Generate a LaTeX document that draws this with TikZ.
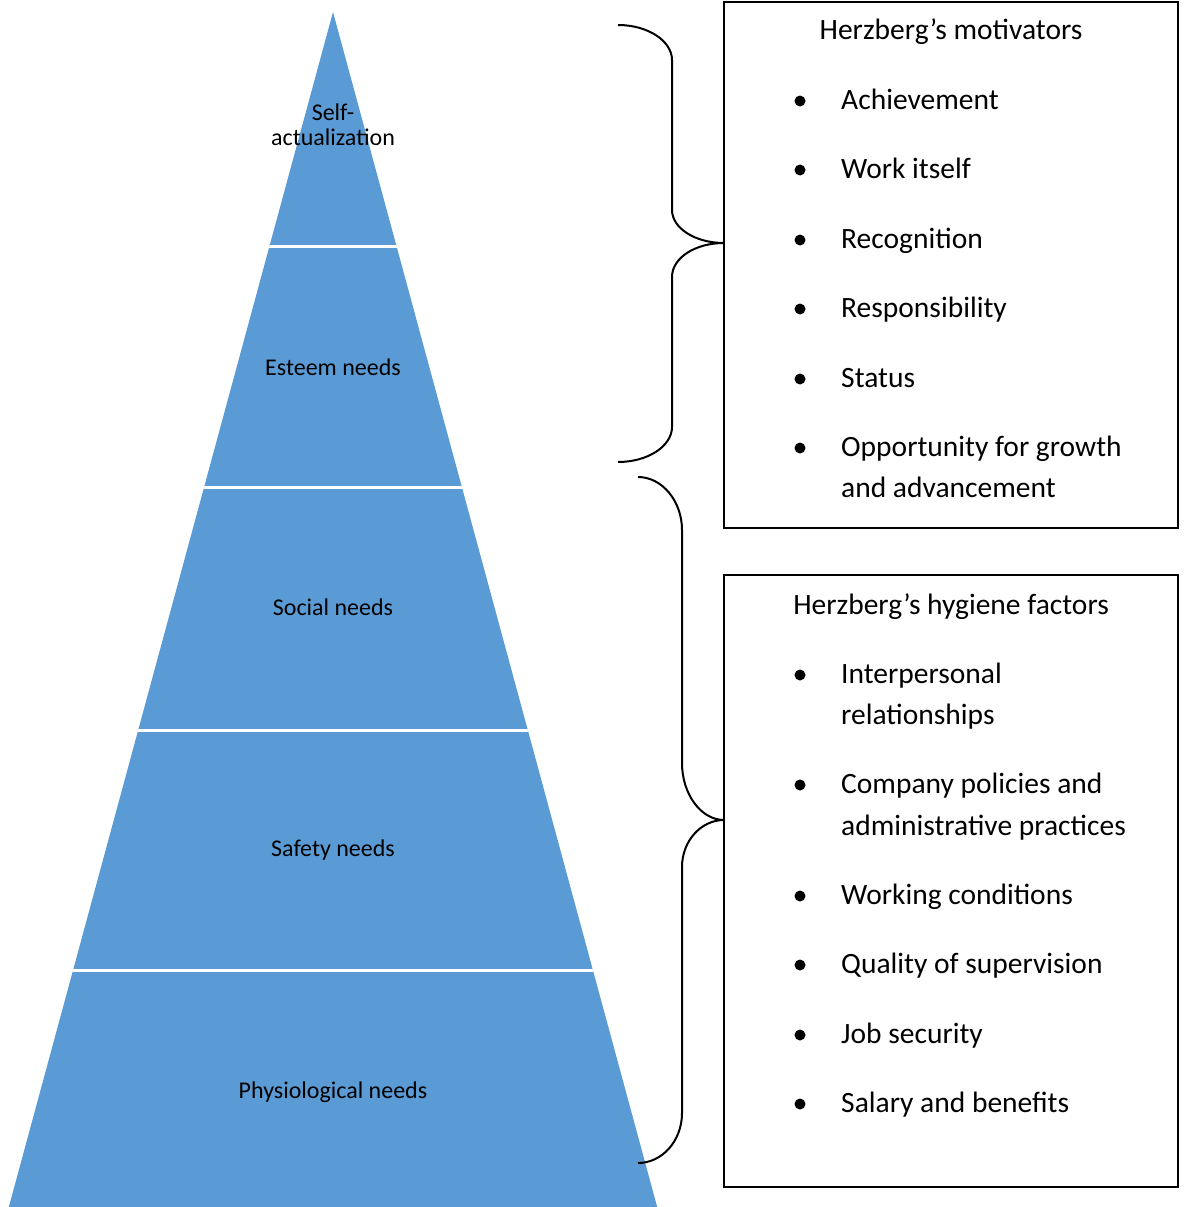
\documentclass[tikz,border=0pt]{standalone}
\usepackage{fontspec}
\setmainfont{Carlito}
\definecolor{pyrblue}{HTML}{5B9BD5}
\begin{document}
\begin{tikzpicture}[x=1pt,y=-1pt,
  boxframe/.style={draw=black,line width=2pt},
  bracestyle/.style={draw=black,line width=2pt},
  itemtext/.style={anchor=base west,inner sep=0pt,font=\fontsize{29.5}{41}\selectfont},
  titletext/.style={anchor=base,inner sep=0pt,font=\fontsize{29.5}{41}\selectfont},
  bulletdot/.style={circle,fill=black,inner sep=0pt,minimum size=11pt},
  levellabel/.style={anchor=base,inner sep=0pt,font=\fontsize{24}{25}\selectfont,text=black}]
\useasboundingbox (0,0) rectangle (1186,1207);

% pyramid
\coordinate (apex) at (333,12);
\coordinate (bl) at (8,1210);
\coordinate (br) at (658,1210);
\fill[pyrblue] (apex) -- (br) -- (bl) -- cycle;
\begin{scope}
  \clip (apex) -- (br) -- (bl) -- cycle;
  \foreach \yy in {246,487,730,970}
    \draw[white,line width=3pt] (0,\yy) -- (700,\yy);
\end{scope}

\node[levellabel] (self1) at (333,120) {Self-};
\node[levellabel] (self2) at (333,145) {actualization};
\node[levellabel] (esteem) at (333,375) {Esteem needs};
\node[levellabel] (social) at (333,615) {Social needs};
\node[levellabel] (safety) at (333,856) {Safety needs};
\node[levellabel] (physio) at (333,1098) {Physiological needs};

% boxes
\draw[boxframe] (724,2) rectangle (1178,528);
\draw[boxframe] (724,575) rectangle (1178,1187);
\coordinate (motbox) at (724,243);
\coordinate (hygbox) at (724,820);

% braces
\coordinate (bAtop) at (618,25);
\coordinate (bAbot) at (618,462);
\draw[bracestyle] (bAtop) .. controls (648,25) and (672,41) .. (672,60)
  -- (672,210) .. controls (672,228) and (695,243) .. (motbox)
  .. controls (695,243) and (672,258) .. (672,277)
  -- (672,427) .. controls (672,446) and (648,462) .. (bAbot);
\coordinate (bBtop) at (638,477);
\coordinate (bBbot) at (638,1163);
\draw[bracestyle] (bBtop) .. controls (662,477) and (682,501) .. (682,530)
  -- (682,763) .. controls (682,794) and (701,820) .. (hygbox)
  .. controls (701,820) and (682,841) .. (682,867)
  -- (682,1113) .. controls (682,1141) and (662,1163) .. (bBbot);

% motivators
\node[titletext] (mtitle) at (951,40) {Herzberg’s motivators};
\foreach \nm/\bl/\txt in {m1/109/Achievement, m2/178/Work itself, m3/248/Recognition, m4/317/Responsibility, m5/387/Status, m6/456/Opportunity for growth}{
  \node[bulletdot] (\nm dot) at (800,\bl-8) {};
  \node[itemtext] (\nm) at (841,\bl) {\txt};
}
\node[itemtext] (m6b) at (841,497) {and advancement};

% hygiene
\node[titletext] (htitle) at (951,614) {Herzberg’s hygiene factors};
\foreach \nm/\bl/\txt in {h1/683/Interpersonal, h2/793/Company policies and, h3/904/Working conditions, h4/973/Quality of supervision, h5/1043/Job security, h6/1112/Salary and benefits}{
  \node[bulletdot] (\nm dot) at (800,\bl-8) {};
  \node[itemtext] (\nm) at (841,\bl) {\txt};
}
\node[itemtext] (h1b) at (841,724) {relationships};
\node[itemtext] (h2b) at (841,835) {administrative practices};
\end{tikzpicture}
\end{document}
